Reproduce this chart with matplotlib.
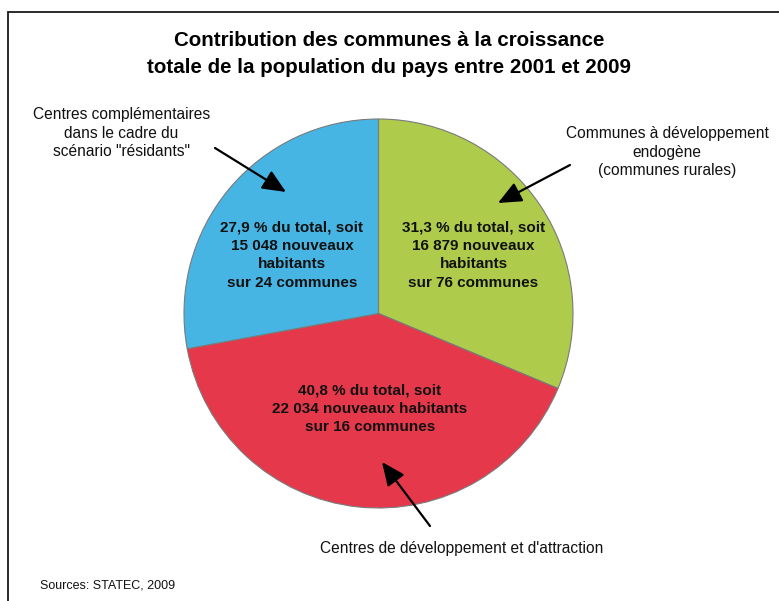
import matplotlib.pyplot as plt

# données (ordre horaire depuis le haut)
categories = ["Communes à développement\nendogène\n(communes rurales)",
              "Centres de développement et d'attraction",
              "Centres complémentaires\ndans le cadre du\nscénario \"résidants\""]
shares = [31.3, 40.8, 27.9]
new_inhabitants = ["16 879", "22 034", "15 048"]
n_communes = [76, 16, 24]
colors = ["#AECB4B", "#E6384B", "#47B5E4"]

title = "Contribution des communes à la croissance\ntotale de la population du pays entre 2001 et 2009"
source = "Sources: STATEC, 2009"

W, H = 779, 601
plt.rcParams['font.family'] = ['Liberation Sans', 'DejaVu Sans']

fig = plt.figure(figsize=(W / 100, H / 100), dpi=100)
ax = fig.add_axes([0, 0, 1, 1])


def py(y):
    # coordonnées pixel (origine en haut) -> coordonnées des axes
    return H - y


cx, cy, r = 378.5, py(313.5), 194.5
ax.pie(shares, colors=colors, startangle=90, counterclock=False,
       center=(cx, cy), radius=r,
       wedgeprops=dict(edgecolor="#7a7a7a", linewidth=0.8))
ax.set_xlim(0, W)
ax.set_ylim(0, H)
ax.set_aspect('equal')
ax.axis('off')

# cadre (coupé à droite et en bas)
ax.plot([8, 8, W + 5], [-5, py(11.5), py(11.5)], color="#1a1a1a", lw=1.3,
        solid_joinstyle='miter', clip_on=False)

ax.text(389, py(54), title, ha='center', va='center', fontsize=14.8,
        fontweight='bold', linespacing=1.47)

# textes dans les secteurs
def fmt_share(v):
    return f"{v:.1f}".replace('.', ',')

wedge_texts = [
    f"{fmt_share(shares[0])} % du total, soit\n{new_inhabitants[0]} nouveaux\nhabitants\nsur {n_communes[0]} communes",
    f"{fmt_share(shares[1])} % du total, soit\n{new_inhabitants[1]} nouveaux habitants\nsur {n_communes[1]} communes",
    f"{fmt_share(shares[2])} % du total, soit\n{new_inhabitants[2]} nouveaux\nhabitants\nsur {n_communes[2]} communes",
]
wedge_pos = [(473.5, 255), (370, 409), (292, 255)]
for txt, (x, y) in zip(wedge_texts, wedge_pos):
    ax.text(x, py(y), txt, ha='center', va='center', fontsize=11,
            fontweight='bold', linespacing=1.40, color='#111111')

# étiquettes extérieures avec flèches
label_pos = [(667, 152), (462, 548), (121.5, 133)]
arrow_tail = [(570, 165), (430, 526), (215, 148)]
arrow_head = [(498, 203), (382, 462), (286, 192)]
for lab, (lx, ly), (tx, ty), (hx, hy) in zip(categories, label_pos, arrow_tail, arrow_head):
    ax.text(lx, py(ly), lab, ha='center', va='center', fontsize=11.2,
            linespacing=1.28, color='#111111')
    ax.annotate("", xy=(hx, py(hy)), xytext=(tx, py(ty)),
                arrowprops=dict(arrowstyle='-|>,head_length=0.95,head_width=0.42',
                                mutation_scale=15, color='black', lw=1.6,
                                shrinkA=0, shrinkB=0))

ax.text(40, py(585), source, ha='left', va='center', fontsize=9, color='#111111')

fig.savefig("out.png", dpi=100)
